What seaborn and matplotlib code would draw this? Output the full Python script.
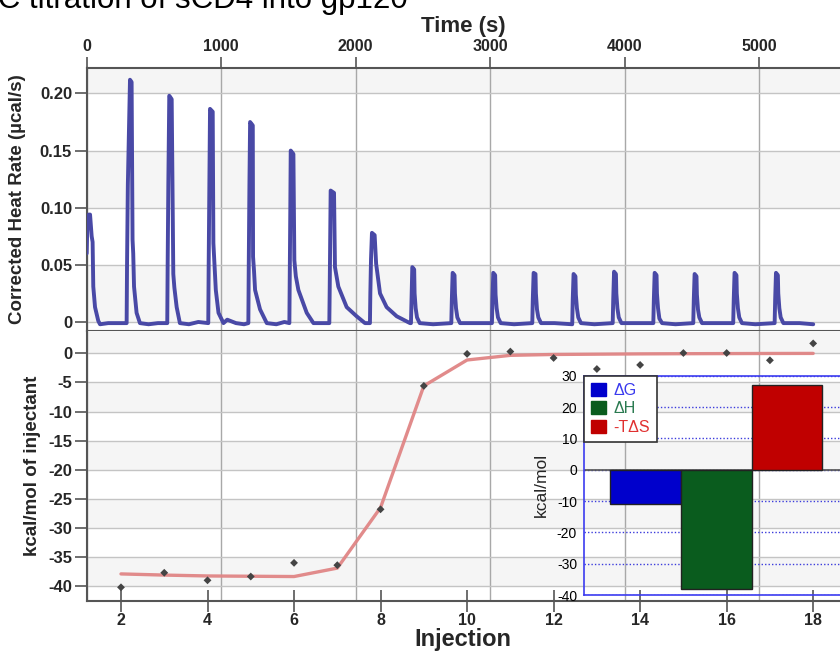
import matplotlib
matplotlib.use("Agg")
import matplotlib.pyplot as plt
import seaborn as sns
import pandas as pd
from matplotlib.patches import Patch

# raw thermogram: time (s) and corrected heat rate (ucal/s)
thermo_t = [
    0, 5, 15, 25, 37, 44, 49, 62, 86, 99, 160, 230,
    297, 300, 306, 322, 334, 341, 346, 352, 371, 396, 460, 530,
    599, 602, 607, 614, 632, 644, 652, 669, 693, 760, 830,
    904, 907, 912, 917, 937, 942, 950, 960, 980, 1017, 1045, 1110, 1170,
    1202, 1205, 1210, 1215, 1235, 1237, 1244, 1252, 1289, 1339, 1410, 1470,
    1507, 1510, 1514, 1517, 1537, 1544, 1555, 1574, 1636, 1686, 1750,
    1804, 1807, 1811, 1814, 1839, 1846, 1871, 1933, 2007, 2069,
    2106, 2109, 2114, 2121, 2141, 2152, 2181, 2230, 2305, 2404,
    2411, 2415, 2421, 2435, 2438, 2446, 2456, 2476, 2576,
    2711, 2715, 2721, 2735, 2738, 2746, 2756, 2776, 2876,
    3013, 3017, 3023, 3037, 3040, 3048, 3058, 3078, 3178,
    3313, 3317, 3323, 3337, 3340, 3348, 3358, 3378, 3478,
    3610, 3614, 3620, 3634, 3637, 3645, 3655, 3675, 3775,
    3911, 3915, 3921, 3935, 3938, 3946, 3956, 3976, 4076,
    4213, 4217, 4223, 4237, 4240, 4248, 4258, 4278, 4378,
    4510, 4514, 4520, 4534, 4537, 4545, 4555, 4575, 4675,
    4807, 4811, 4817, 4831, 4834, 4842, 4852, 4872, 4972,
    5115, 5119, 5125, 5139, 5142, 5150, 5160, 5180, 5300, 5402,
]
thermo_q = [
    0.06, 0.085, 0.094, 0.094, 0.075, 0.07, 0.031, 0.013, 0.001, -0.002, -0.001, -0.001,
    -0.001, 0.05, 0.12, 0.212, 0.210, 0.072, 0.06, 0.031, 0.008, -0.001, -0.002, -0.001,
    -0.001, 0.05, 0.12, 0.198, 0.195, 0.042, 0.03, 0.013, -0.001, -0.002, 0.0,
    -0.001, 0.05, 0.12, 0.1865, 0.184, 0.069, 0.05, 0.028, 0.008, -0.001, 0.002, -0.001, -0.002,
    -0.001, 0.05, 0.12, 0.175, 0.172, 0.057, 0.045, 0.028, 0.011, -0.001, -0.002, 0.0,
    -0.001, 0.04, 0.10, 0.150, 0.147, 0.054, 0.04, 0.028, 0.008, -0.001, -0.001,
    -0.001, 0.03, 0.08, 0.115, 0.113, 0.048, 0.031, 0.013, 0.005, -0.001,
    -0.001, 0.025, 0.055, 0.078, 0.076, 0.051, 0.025, 0.013, 0.005, -0.001,
    -0.001, 0.02, 0.048, 0.046, 0.025, 0.012, 0.004, -0.001, -0.002,
    -0.001, 0.02, 0.043, 0.041, 0.025, 0.012, 0.004, -0.001, -0.001,
    -0.001, 0.02, 0.043, 0.041, 0.024, 0.012, 0.004, -0.001, -0.002,
    -0.001, 0.02, 0.043, 0.042, 0.025, 0.011, 0.004, -0.001, -0.001,
    -0.002, 0.02, 0.042, 0.040, 0.024, 0.012, 0.004, -0.001, -0.002,
    -0.001, 0.02, 0.044, 0.042, 0.025, 0.012, 0.004, -0.001, -0.001,
    -0.001, 0.02, 0.043, 0.041, 0.025, 0.012, 0.003, -0.001, -0.002,
    -0.001, 0.02, 0.042, 0.040, 0.024, 0.011, 0.004, -0.001, -0.001,
    -0.001, 0.02, 0.043, 0.041, 0.025, 0.012, 0.004, -0.001, -0.002,
    -0.001, 0.02, 0.043, 0.041, 0.025, 0.012, 0.004, -0.001, -0.001, -0.002,
]

# integrated heats per injection (kcal/mol of injectant)
injection = list(range(2, 19))
heat_obs = [-40.2, -37.7, -39.0, -38.35, -36.0, -36.4, -26.8, -5.6, -0.1,
            0.3, -0.8, -2.7, -2.0, 0.05, 0.05, -1.2, 1.7]
heat_fit = [-37.9, -38.1, -38.25, -38.3, -38.35, -36.9, -26.5, -5.6, -1.15,
            -0.35, -0.2, -0.15, -0.1, -0.07, -0.05, -0.03, -0.02]

# thermodynamic signature
terms = ["\u0394G", "\u0394H", "-T\u0394S"]
term_vals = [-11.0, -38.0, 27.0]
term_colors = ["#0000cc", "#0a5c1e", "#c00000"]
term_text_colors = ["#3a3aee", "#2a7a50", "#e03030"]

time_ticks = [0, 1000, 2000, 3000, 4000, 5000]
rate_ticks = [0, 0.05, 0.10, 0.15, 0.20]
rate_labels = ["0", "0.05", "0.10", "0.15", "0.20"]
kcal_ticks = [0, -5, -10, -15, -20, -25, -30, -35, -40]
inj_ticks = [2, 4, 6, 8, 10, 12, 14, 16, 18]
inset_ticks = [30, 20, 10, 0, -10, -20, -30, -40]

sns.set_theme(style="white")
plt.rcParams["font.family"] = ["Liberation Sans", "DejaVu Sans"]
plt.rcParams["axes.unicode_minus"] = False

SPINE = "#555555"
BAND = "#f5f5f5"
HGRID = "#c4c4c4"
VGRID = "#a8a8a8"


def shade(ax, ticks, top):
    edges = sorted(ticks) + [top]
    for lo, hi in zip(edges[0::2], edges[1::2]):
        ax.axhspan(lo, hi, color=BAND, lw=0, zorder=0.1)


fig = plt.figure(figsize=(8.4, 6.53), dpi=100)
ax_top = fig.add_axes([0.1032, 0.4931, 0.8968, 0.4035])
ax_bot = fig.add_axes([0.1032, 0.0801, 0.8968, 0.4130])
ax_vg = ax_bot.twiny()
ax_in = fig.add_axes([0.6952, 0.0888, 0.3048, 0.3359])

fig.text(-0.036, 0.9877, "ITC titration of sCD4 into gp120", fontsize=22.5,
         va="baseline", ha="left", color="black")

# ---- thermogram
thermo = pd.DataFrame({"time": thermo_t, "rate": thermo_q})
shade(ax_top, rate_ticks, 0.2227)
sns.lineplot(data=thermo, x="time", y="rate", ax=ax_top, color="#4949a6",
             lw=2.8, zorder=3)
ax_top.set_xlim(0, 5601)
ax_top.set_ylim(-0.0079, 0.2227)
ax_top.xaxis.tick_top()
ax_top.xaxis.set_label_position("top")
ax_top.set_xticks(time_ticks, [str(t) for t in time_ticks],
                  fontweight="bold", fontsize=11.5)
ax_top.set_yticks(rate_ticks, rate_labels, fontweight="bold", fontsize=12)
ax_top.set_xlabel("Time (s)", fontsize=16, fontweight="bold", labelpad=5)
ax_top.set_ylabel("Corrected Heat Rate (\u00b5cal/s)", fontsize=13.5,
                  fontweight="bold")
ax_top.yaxis.set_label_coords(-0.08, 0.5)
ax_top.set_axisbelow(True)
ax_top.grid(True, axis="y", color=HGRID, lw=1)
ax_top.grid(True, axis="x", color=VGRID, lw=1)
ax_top.tick_params(axis="x", direction="out", length=8, width=1.2,
                   color=SPINE, pad=2, top=True, bottom=False)
ax_top.tick_params(axis="y", direction="out", length=8.5, width=1.2,
                   color=SPINE, pad=2, left=True)
for s in ["top", "left", "bottom"]:
    ax_top.spines[s].set_color(SPINE)
    ax_top.spines[s].set_linewidth(1.5)
ax_top.spines["right"].set_visible(False)

# ---- isotherm
iso = pd.DataFrame({"injection": injection, "observed": heat_obs,
                    "fit": heat_fit})
ax_vg.set_zorder(0)
ax_bot.set_zorder(1)
ax_bot.patch.set_visible(False)
shade(ax_vg, kcal_ticks, 3.83)
ax_vg.set_xlim(0, 5601)
ax_vg.set_xticks(time_ticks)
ax_vg.set_axisbelow(True)
ax_vg.grid(True, axis="x", color=VGRID, lw=1)
ax_vg.tick_params(axis="x", length=0, labeltop=False, labelbottom=False)
for s in ax_vg.spines.values():
    s.set_visible(False)

sns.lineplot(data=iso, x="injection", y="fit", ax=ax_bot, color="#e08585",
             lw=2.4, alpha=0.95, zorder=3)
sns.scatterplot(data=iso, x="injection", y="observed", ax=ax_bot, marker="D",
                s=16, color="#444444", edgecolor="none", zorder=4)
ax_bot.set_xlim(1.207, 18.62)
ax_bot.set_ylim(-42.5, 3.83)
ax_bot.set_xticks(inj_ticks, [str(i) for i in inj_ticks],
                  fontweight="bold", fontsize=11.5)
ax_bot.set_yticks(kcal_ticks, [str(k) for k in kcal_ticks],
                  fontweight="bold", fontsize=12)
ax_bot.grid(True, axis="y", color=HGRID, lw=1)
ax_bot.grid(False, axis="x")
ax_bot.set_xlabel("Injection", fontsize=17, fontweight="bold", labelpad=0)
ax_bot.set_ylabel("kcal/mol of injectant", fontsize=13.5, fontweight="bold")
ax_bot.yaxis.set_label_coords(-0.06, 0.5)
ax_bot.tick_params(axis="x", direction="inout", length=16, width=1.2,
                   color=SPINE, pad=1, bottom=True)
ax_bot.tick_params(axis="y", direction="out", length=8.5, width=1.2,
                   color=SPINE, pad=2, left=True)
for s in ["left", "bottom"]:
    ax_bot.spines[s].set_color(SPINE)
    ax_bot.spines[s].set_linewidth(1.5)
ax_bot.spines["top"].set_visible(False)
ax_bot.spines["right"].set_visible(False)

# ---- thermodynamic signature inset
sig = pd.DataFrame({"term": terms, "value": term_vals})
ax_in.set_zorder(2)
ax_in.patch.set_visible(False)
sns.barplot(data=sig, x="term", y="value", hue="term", palette=term_colors,
            saturation=1, width=1.0, edgecolor="#222222", linewidth=1,
            legend=False, ax=ax_in, zorder=3)
ax_in.set_xlim(-0.87, 2.75)
ax_in.set_ylim(-40, 30)
ax_in.set_yticks(inset_ticks, [str(v) for v in inset_ticks], fontsize=10)
ax_in.set_xticks([])
ax_in.set_xlabel("")
ax_in.set_ylabel("kcal/mol", fontsize=12.5, labelpad=6)
ax_in.grid(True, axis="y", color="#3c3cdc", ls=(0, (1, 1.5)), lw=1)
ax_in.set_axisbelow(True)
ax_in.axhline(0, color="#555555", lw=1.2, zorder=2)
ax_in.tick_params(axis="y", length=0, pad=5, colors="black")
for s in ["left", "top", "bottom"]:
    ax_in.spines[s].set_color("#3c3cf0")
    ax_in.spines[s].set_linewidth(1.2)
ax_in.spines["right"].set_visible(False)

handles = [Patch(facecolor=c, edgecolor=c) for c in term_colors]
leg = ax_in.legend(handles, terms, loc="upper left", bbox_to_anchor=(0, 1),
                   borderaxespad=0, frameon=True, fancybox=False,
                   framealpha=1, fontsize=11.5, handlelength=0.9,
                   handleheight=0.9, handletextpad=0.5, labelspacing=0.2,
                   borderpad=0.45)
leg.get_frame().set_edgecolor("#333333")
leg.get_frame().set_linewidth(1.2)
for txt, c in zip(leg.get_texts(), term_text_colors):
    txt.set_color(c)

fig.savefig("out.png", dpi=100)
